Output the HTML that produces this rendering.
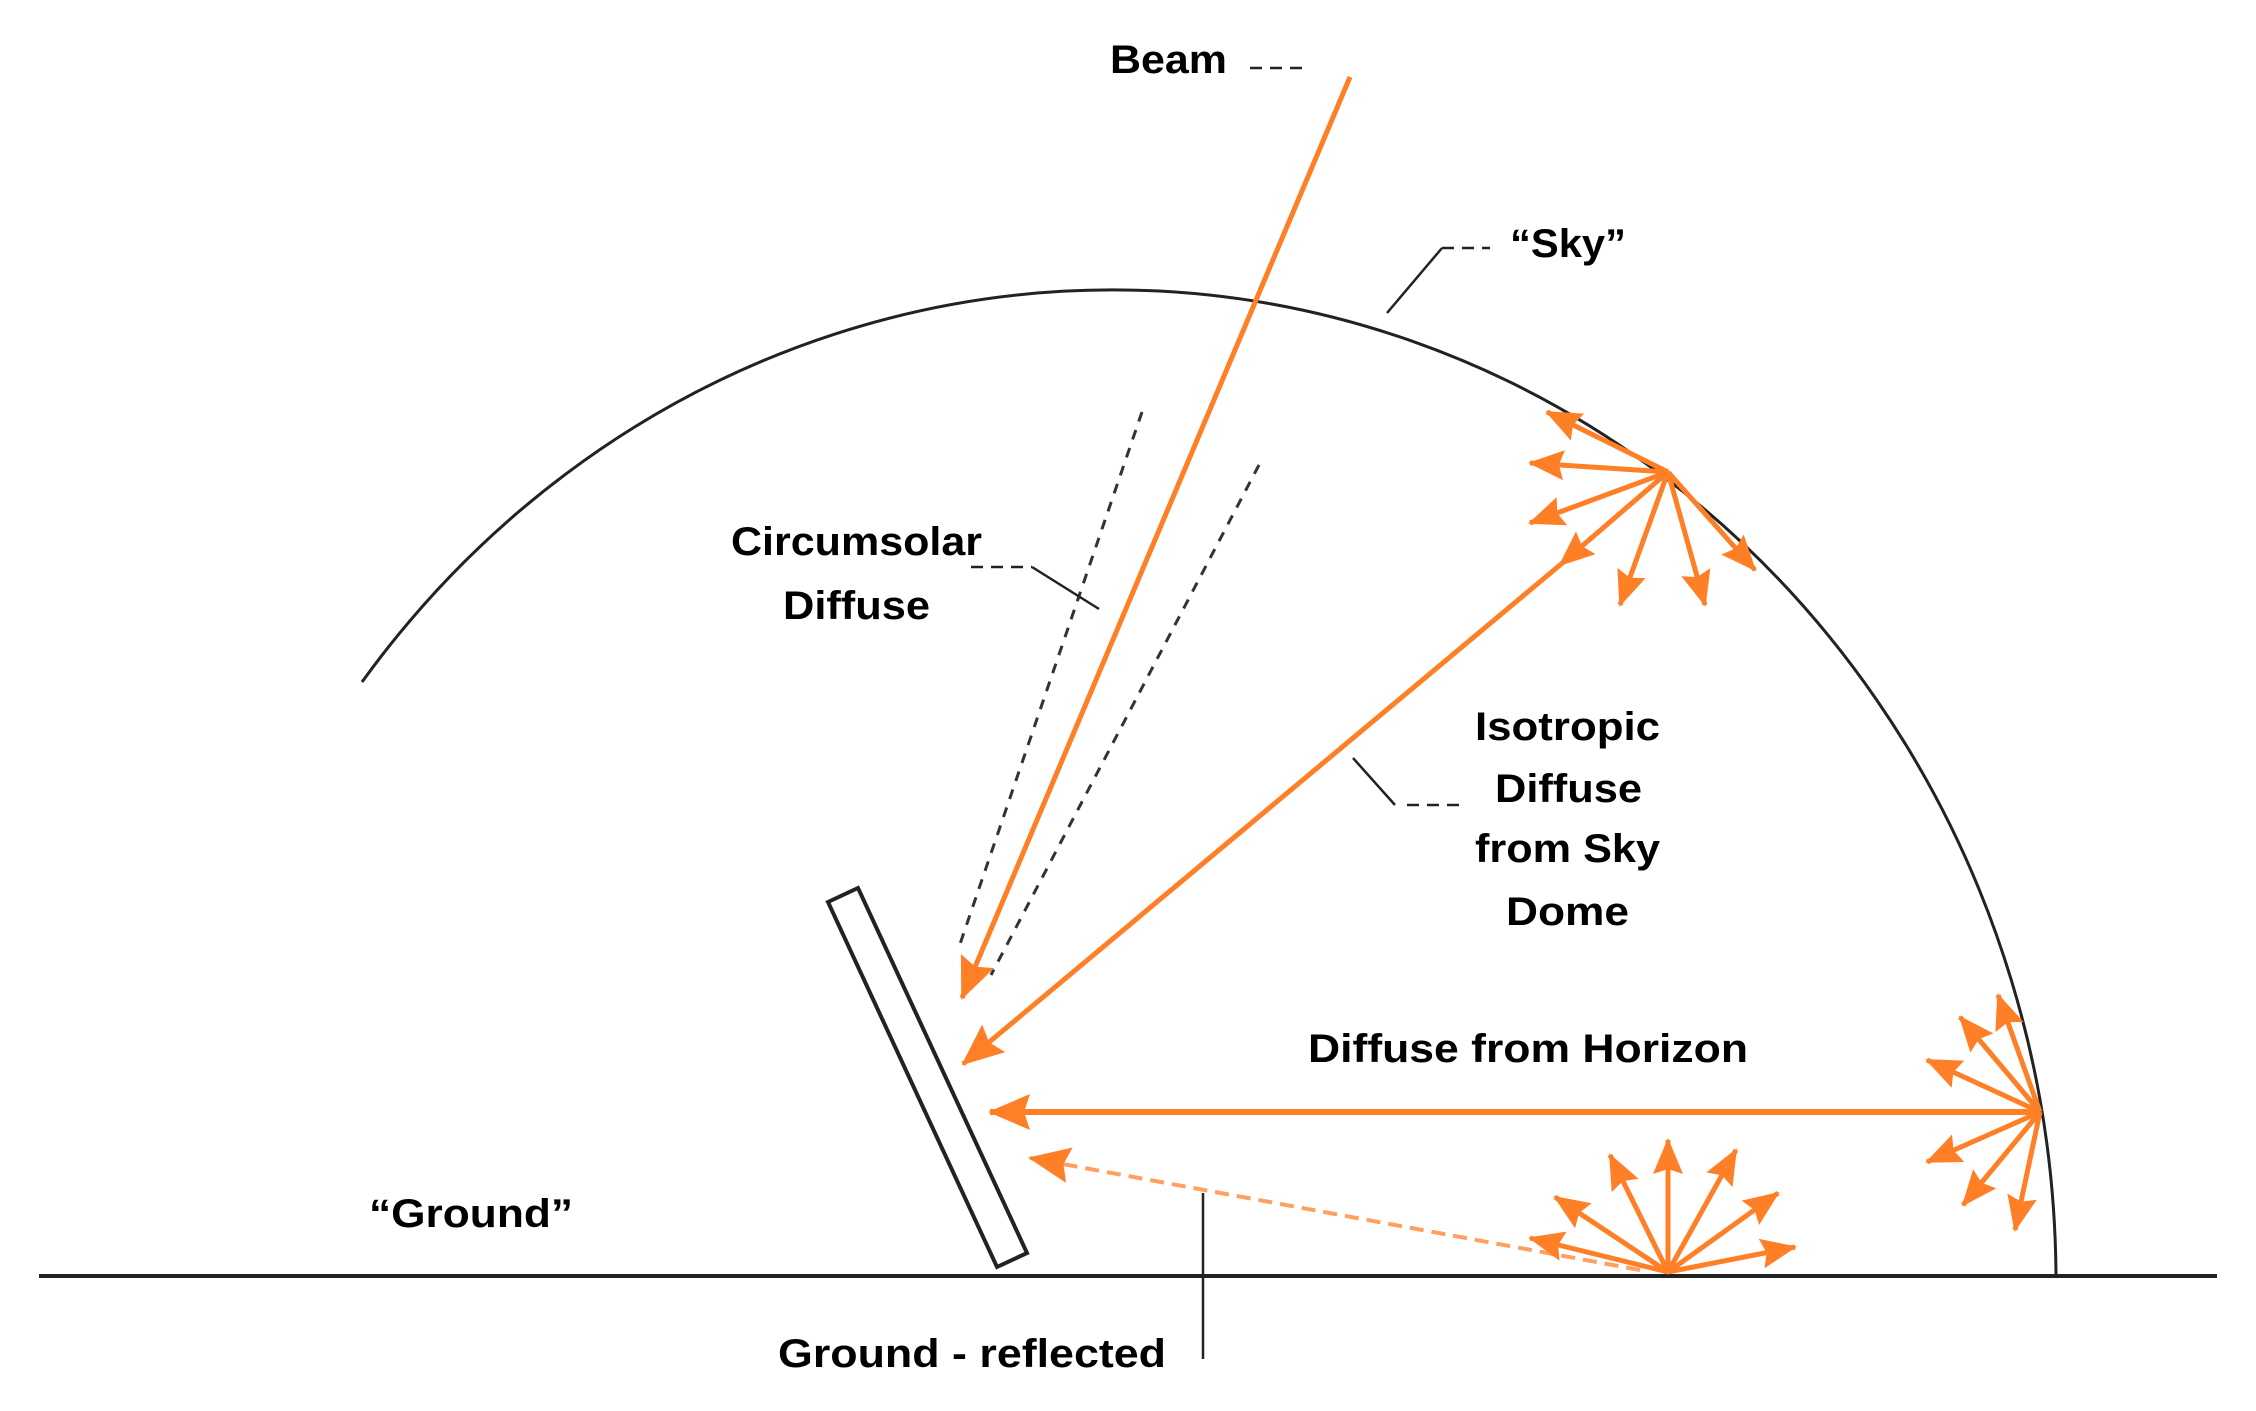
<!DOCTYPE html>
<html><head><meta charset="utf-8"><style>
html,body{margin:0;padding:0;background:#fff;}
svg{display:block;}
text{font-family:"Liberation Sans",sans-serif;font-weight:bold;font-size:40px;fill:#000;}
</style></head><body>
<svg width="2256" height="1411" viewBox="0 0 2256 1411" xmlns="http://www.w3.org/2000/svg">
<defs>
<marker id="a" markerUnits="userSpaceOnUse" markerWidth="50" markerHeight="50" refX="40" refY="18" orient="auto">
<path d="M0,0 L42,18 L0,36 L6,18 Z" fill="#FF7F27"/>
</marker>
<marker id="b" markerUnits="userSpaceOnUse" markerWidth="50" markerHeight="50" refX="34" refY="15" orient="auto">
<path d="M0,0 L36,15 L0,30 L5,15 Z" fill="#FF7F27"/>
</marker>
</defs>
<line x1="39" y1="1276" x2="2217" y2="1276" stroke="#222" stroke-width="4"/>
<path d="M362 682 A 943 992 0 0 1 2056 1276" fill="none" stroke="#222" stroke-width="3"/>
<polygon points="828,902 858,888 1027,1253 997,1267" fill="#fff" stroke="#222" stroke-width="4"/>
<line x1="1142" y1="412" x2="960" y2="944" stroke="#333" stroke-width="3" stroke-dasharray="10,9"/>
<line x1="1259" y1="465" x2="991" y2="975" stroke="#333" stroke-width="3" stroke-dasharray="10,9"/>
<line x1="1350" y1="77" x2="962" y2="998" stroke="#FF7F27" stroke-width="5" marker-end="url(#a)"/>
<line x1="1560" y1="565" x2="963" y2="1064" stroke="#FF7F27" stroke-width="5" marker-end="url(#a)"/>
<line x1="2040" y1="1112" x2="990" y2="1112" stroke="#FF7F27" stroke-width="6" marker-end="url(#a)"/>
<line x1="1640" y1="1270" x2="1030" y2="1158" stroke="#FF9F60" stroke-width="4" stroke-dasharray="14,8" marker-end="url(#a)"/>
<g stroke="#FF7F27" stroke-width="5" marker-end="url(#b)">
<line x1="1668" y1="472" x2="1547" y2="412"/>
<line x1="1668" y1="472" x2="1530" y2="463"/>
<line x1="1668" y1="472" x2="1530" y2="523"/>
<line x1="1668" y1="472" x2="1560" y2="565"/>
<line x1="1668" y1="472" x2="1620" y2="605"/>
<line x1="1668" y1="472" x2="1705" y2="605"/>
<line x1="1668" y1="472" x2="1755" y2="570"/>
</g>
<g stroke="#FF7F27" stroke-width="5" marker-end="url(#b)">
<line x1="2040" y1="1112" x2="1998" y2="995"/>
<line x1="2040" y1="1112" x2="1960" y2="1017"/>
<line x1="2040" y1="1112" x2="1927" y2="1060"/>
<line x1="2040" y1="1112" x2="1927" y2="1162"/>
<line x1="2040" y1="1112" x2="1963" y2="1205"/>
<line x1="2040" y1="1112" x2="2015" y2="1230"/>
</g>
<g stroke="#FF7F27" stroke-width="5" marker-end="url(#b)">
<line x1="1668" y1="1272" x2="1530" y2="1238"/>
<line x1="1668" y1="1272" x2="1555" y2="1197"/>
<line x1="1668" y1="1272" x2="1610" y2="1155"/>
<line x1="1668" y1="1272" x2="1668" y2="1140"/>
<line x1="1668" y1="1272" x2="1736" y2="1150"/>
<line x1="1668" y1="1272" x2="1778" y2="1193"/>
<line x1="1668" y1="1272" x2="1795" y2="1247"/>
</g>
<g stroke="#222" stroke-width="2.5" fill="none">
<line x1="1250" y1="68" x2="1310" y2="68" stroke-dasharray="12,8"/>
<line x1="1442" y1="248" x2="1490" y2="248" stroke-dasharray="12,8"/>
<polyline points="1442,248 1387,313"/>
<line x1="971" y1="567" x2="1032" y2="567" stroke-dasharray="12,8"/>
<polyline points="1032,567 1099,609"/>
<polyline points="1353,758 1395,805"/>
<line x1="1407" y1="805" x2="1465" y2="805" stroke-dasharray="12,8"/>
<line x1="1203" y1="1193" x2="1203" y2="1359"/>
</g>
<text x="1110" y="73" textLength="117" lengthAdjust="spacingAndGlyphs">Beam</text>
<text x="1510" y="257" textLength="116" lengthAdjust="spacingAndGlyphs">“Sky”</text>
<text x="731" y="555" textLength="251" lengthAdjust="spacingAndGlyphs">Circumsolar</text>
<text x="783" y="619" textLength="147" lengthAdjust="spacingAndGlyphs">Diffuse</text>
<text x="1475" y="740" textLength="185" lengthAdjust="spacingAndGlyphs">Isotropic</text>
<text x="1495" y="802" textLength="147" lengthAdjust="spacingAndGlyphs">Diffuse</text>
<text x="1475" y="862" textLength="185" lengthAdjust="spacingAndGlyphs">from Sky</text>
<text x="1506" y="925" textLength="123" lengthAdjust="spacingAndGlyphs">Dome</text>
<text x="1308" y="1062" textLength="440" lengthAdjust="spacingAndGlyphs">Diffuse from Horizon</text>
<text x="369" y="1227" textLength="204" lengthAdjust="spacingAndGlyphs">“Ground”</text>
<text x="778" y="1367" textLength="388" lengthAdjust="spacingAndGlyphs">Ground - reflected</text>
</svg>
</body></html>
